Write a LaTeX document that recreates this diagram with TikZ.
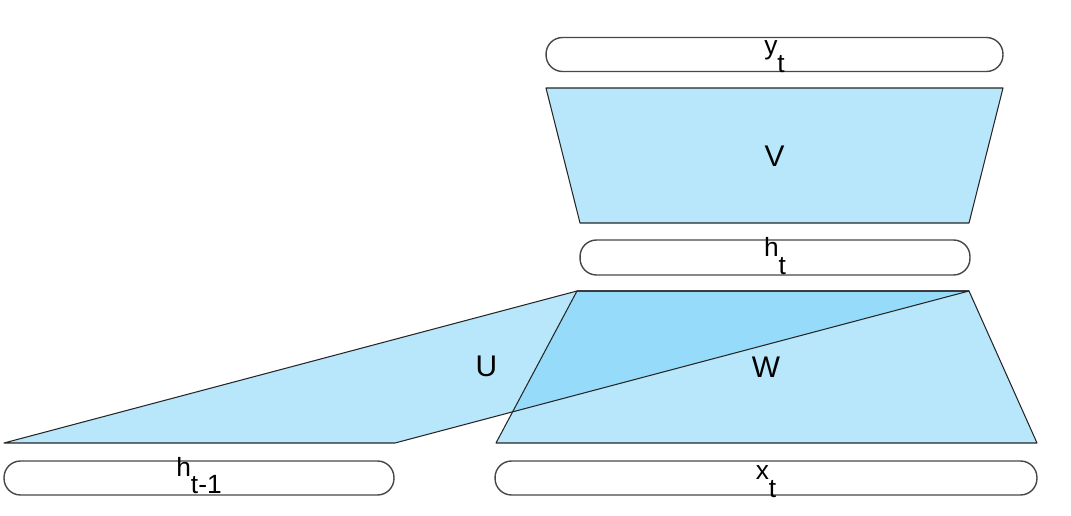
\documentclass[tikz,border=0pt]{standalone}
\usepackage{fontspec}
\setmainfont{Liberation Sans}
\definecolor{lightfill}{RGB}{184,231,251}
\definecolor{darkfill}{RGB}{150,220,250}
\newcommand\lowsub[1]{\raisebox{-10pt}{#1}}
\begin{document}
\begin{tikzpicture}[x=0.02cm,y=-0.02cm,
  pill/.style={draw=black!72, line width=0.8pt, rounded corners=0.33cm, inner sep=0pt, outer sep=0pt},
  matedge/.style={draw=black!85, line width=0.6pt, line join=round},
  lbl/.style={font=\fontsize{15}{18}\selectfont, anchor=base, inner sep=0pt},
  big/.style={font=\fontsize{17}{20}\selectfont, inner sep=0pt}]
\useasboundingbox (0,0) rectangle (1071,516);

% pills
\node[pill, minimum width=9.14cm, minimum height=0.68cm] (yt) at (774.5,54.5) {};
\node[pill, minimum width=7.8cm, minimum height=0.70cm] (ht) at (775,257.5) {};
\node[pill, minimum width=7.8cm, minimum height=0.68cm] (htm) at (199,478) {};
\node[pill, minimum width=10.84cm, minimum height=0.68cm] (xt) at (766,478) {};

% corners
\coordinate (V1) at (546,88);  \coordinate (V2) at (1003,88);
\coordinate (V3) at (969,223); \coordinate (V4) at (580,223);
\coordinate (W1) at (577,291); \coordinate (W2) at (969,291);
\coordinate (W3) at (1037,443); \coordinate (W4) at (496,443);
\coordinate (U1) at (4,443);   \coordinate (U2) at (395,443);
\coordinate (X) at (intersection of U2--W2 and W4--W1);

% fills
\fill[lightfill] (V1) -- (V2) -- (V3) -- (V4) -- cycle;
\fill[lightfill] (U1) -- (U2) -- (W2) -- (W1) -- cycle;
\fill[lightfill] (W1) -- (W2) -- (W3) -- (W4) -- cycle;
\fill[darkfill] (W1) -- (W2) -- (X) -- cycle;

% edges
\draw[matedge] (V1) -- (V2) -- (V3) -- (V4) -- cycle;
\draw[matedge] (U1) -- (U2) -- (W2) -- (W1) -- cycle;
\draw[matedge] (W1) -- (W2) -- (W3) -- (W4) -- cycle;

% labels
\node[lbl] (lyt) at (yt.center) {y\lowsub{t}};
\node[lbl] (lht) at ([yshift=0.5]ht.center) {h\lowsub{t}};
\node[lbl] (lhtm) at ([yshift=1]htm.center) {h\lowsub{t-1}};
\node[lbl] (lxt) at ([yshift=-1]xt.center) {x\lowsub{t}};
\node[big] (lV) at (774.5,156.5) {V};
\node[big] (lU) at (486.5,366.5) {U};
\node[big] (lW) at (766,367.5) {W};
\end{tikzpicture}
\end{document}
